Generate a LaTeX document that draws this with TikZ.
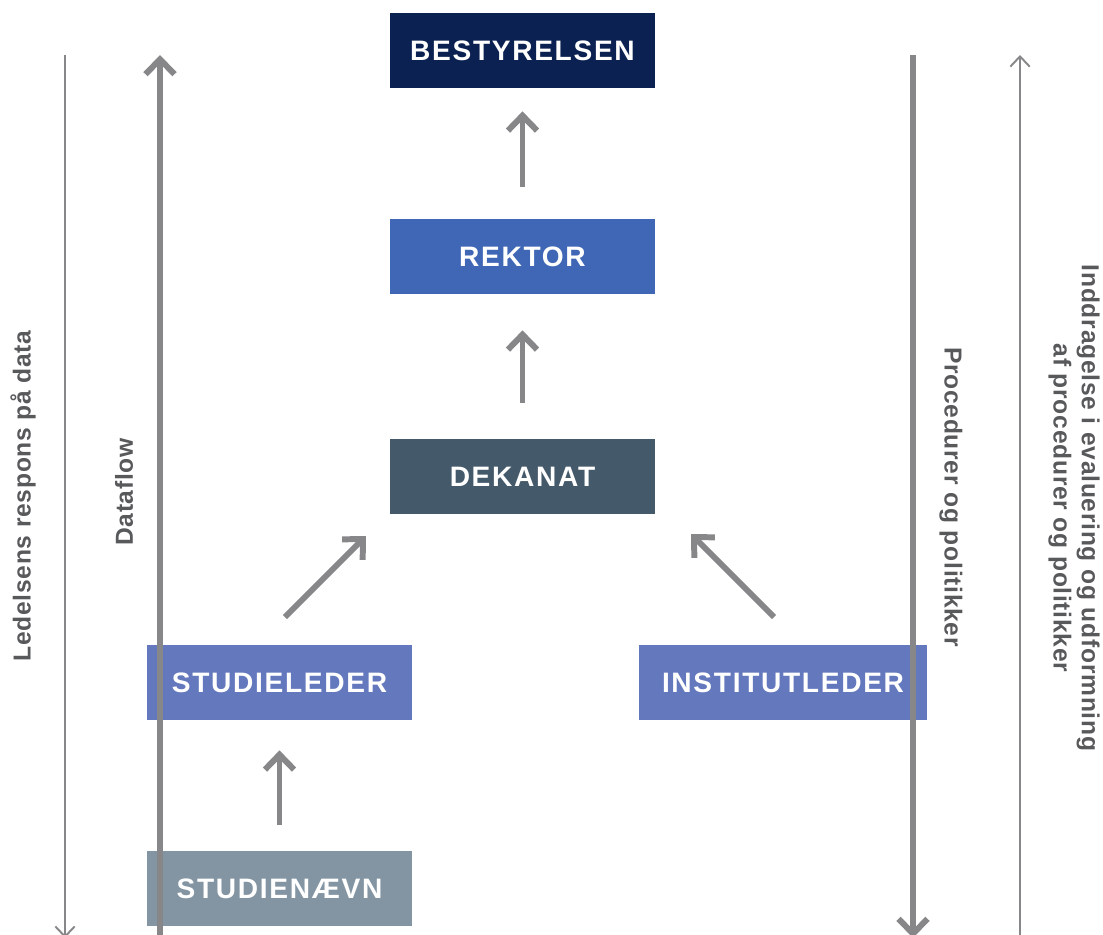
\documentclass[tikz,border=0pt]{standalone}
\usepackage{fontspec}
\setmainfont{Liberation Sans}
\newfontfamily\boxfont[LetterSpace=6]{Liberation Sans}
\newfontfamily\sidefont[LetterSpace=3]{Liberation Sans}
\usetikzlibrary{arrows.meta}

\definecolor{navy}{HTML}{0B2152}
\definecolor{rektorblue}{HTML}{3F67B5}
\definecolor{slate}{HTML}{44596A}
\definecolor{periwinkle}{HTML}{6478BE}
\definecolor{greyblue}{HTML}{8395A3}
\definecolor{linegrey}{HTML}{87878A}
\definecolor{textgrey}{HTML}{58595B}

\tikzset{
    unit/.style={fill=#1, text=white, minimum width=5.3cm, minimum height=1.5cm,
        inner sep=0pt, font=\boxfont\bfseries\fontsize{16}{19}\selectfont},
    sidelabel/.style={text=textgrey, align=center,
        font=\sidefont\bfseries\fontsize{14}{16}\selectfont},
    fatarrow/.style={draw=linegrey, line width=3.4pt,
        -{Straight Barb[sharp, length=8.5pt, width=16.5pt]}},
    slimarrow/.style={draw=linegrey, line width=1.1pt,
        -{Straight Barb[sharp, length=5.8pt, width=11pt]}}
}

\begin{document}
\begin{tikzpicture}[x=0.02cm, y=-0.02cm]
    \useasboundingbox (0, 0) rectangle (1103, 934);

    % boxes
    \node[unit=navy] (bestyrelsen) at(522.5, 50.5) {BESTYRELSEN};
    \node[unit=rektorblue] (rektor) at(522.5, 256.5) {REKTOR};
    \node[unit=slate] (dekanat) at(522.5, 476.5) {DEKANAT};
    \node[unit=periwinkle] (studieleder) at(279.5, 682.5) {STUDIELEDER};
    \node[unit=periwinkle, minimum width=5.76cm] (institutleder) at(783, 682.5) {INSTITUTLEDER};
    \node[unit=greyblue] (studienaevn) at(279.5, 888.5) {STUDIENÆVN};

    % arrows between the boxes
    \draw[fatarrow, shorten <=0.64cm, shorten >=0.46cm] (rektor.north) -- (bestyrelsen.south);
    \draw[fatarrow, shorten <=0.72cm, shorten >=0.72cm] (dekanat.north) -- (rektor.south);
    \draw[fatarrow, shorten <=0.52cm, shorten >=0.60cm] (studienaevn.north) -- (studieleder.south);
    \coordinate (sl-out) at(285, 617);
    \coordinate (sl-in) at(366, 536);
    \coordinate (il-out) at(774, 617);
    \coordinate (il-in) at(691, 534);
    \draw[fatarrow] (sl-out) -- (sl-in);
    \draw[fatarrow] (il-out) -- (il-in);

    % long side arrows
    \coordinate (respons-top) at(65, 55);
    \coordinate (respons-bot) at(65, 938);
    \coordinate (data-bot) at(160, 945);
    \coordinate (data-top) at(160, 55);
    \coordinate (proc-top) at(913, 55);
    \coordinate (proc-bot) at(913, 938);
    \coordinate (indd-bot) at(1020, 945);
    \coordinate (indd-top) at(1020, 55);
    \draw[slimarrow] (respons-top) -- (respons-bot);
    \draw[fatarrow] (data-bot) -- (data-top);
    \draw[fatarrow] (proc-top) -- (proc-bot);
    \draw[slimarrow] (indd-bot) -- (indd-top);

    \node[sidelabel, rotate=90] (respons) at(23, 496) {Ledelsens respons på data};
    \node[sidelabel, rotate=90] (dataflow) at(124, 492) {Dataflow};
    \node[sidelabel, rotate=-90] (proc) at(951, 497) {Procedurer og politikker};
    \node[sidelabel, rotate=-90] (indd) at(1074, 508)
        {Inddragelse i evaluering og udformning\\af procedurer og politikker};
\end{tikzpicture}
\end{document}
